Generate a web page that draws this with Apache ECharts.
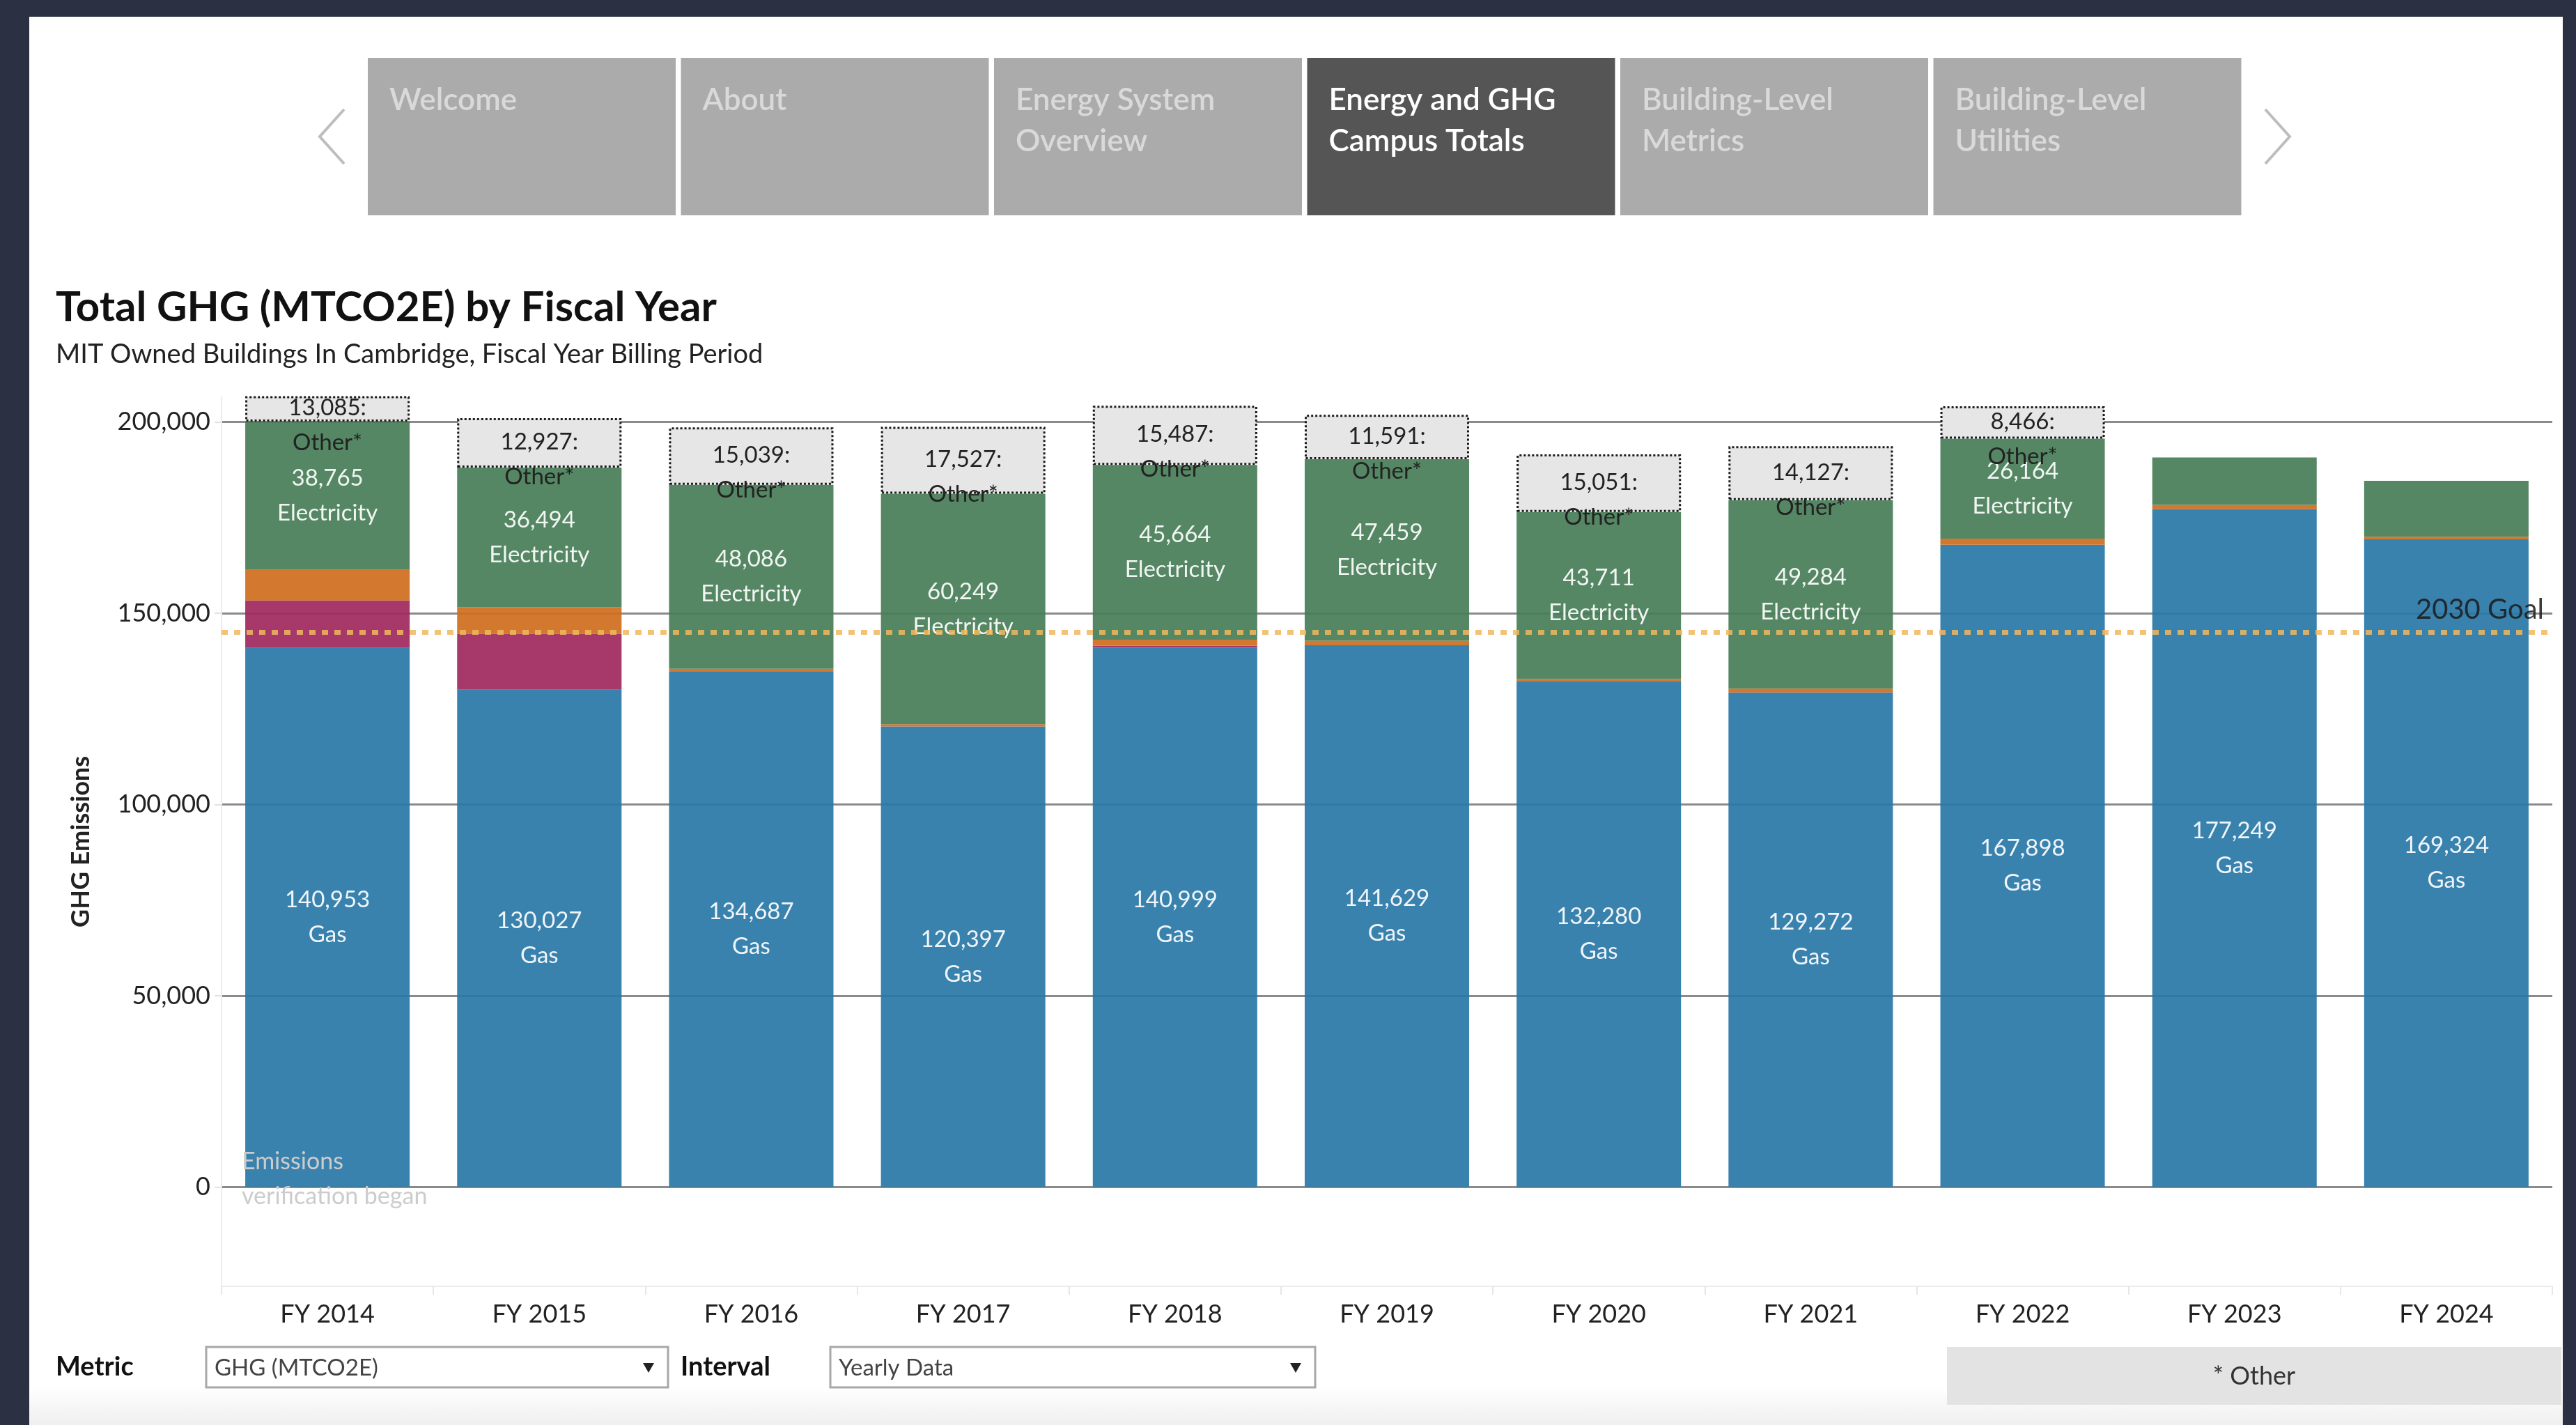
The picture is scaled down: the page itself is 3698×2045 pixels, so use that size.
<!DOCTYPE html>
<html>
<head>
<meta charset="utf-8">
<title>Total GHG (MTCO2E) by Fiscal Year</title>
<script src="https://cdn.jsdelivr.net/npm/echarts@6/dist/echarts.min.js"></script>
<style>
  html, body { margin: 0; padding: 0; background: #2b3142; }
  #chart { width: 3698px; height: 2045px; }
</style>
</head>
<body>
<div id="chart"></div>
<script>
const fiscalYears = ['FY 2014', 'FY 2015', 'FY 2016', 'FY 2017', 'FY 2018', 'FY 2019', 'FY 2020', 'FY 2021', 'FY 2022', 'FY 2023', 'FY 2024'];
const gasValues = [140953, 130027, 134687, 120397, 140999, 141629, 132280, 129272, 167898, 177249, 169324];
const fuelOil6Values = [12400, 14600, 0, 0, 500, 0, 0, 0, 0, 0, 0];
const fuelOil2Values = [8000, 6980, 800, 600, 1600, 1200, 500, 1000, 1600, 1100, 700];
const electricityValues = [38765, 36494, 48086, 60249, 45664, 47459, 43711, 49284, 26164, 12400, 14600];
const otherValues = [13085, 12927, 15039, 17527, 15487, 11591, 15051, 14127, 8466, null, null];
const goal2030 = 145000;
const yTicks = [0, 50000, 100000, 150000, 200000];

const navTabs = ['Welcome', 'About', 'Energy System\nOverview', 'Energy and GHG\nCampus Totals', 'Building-Level\nMetrics', 'Building-Level\nUtilities'];
const activeTab = 3;

const FONT = 'Lato';
const numFmt = new Intl.NumberFormat('en-US');

const barLabel = {
  show: true,
  position: 'inside',
  color: '#ffffff',
  fontFamily: FONT,
  fontSize: 33,
  lineHeight: 50
};

function pageGraphics() {
  const els = [];
  // white panel inside the dark frame
  els.push({ type: 'rect', z: -10, shape: { x: 42, y: 24, width: 3637, height: 2021 }, style: { fill: '#ffffff' } });
  els.push({
    type: 'rect', z: -9, shape: { x: 42, y: 1990, width: 3637, height: 55 },
    style: { fill: new echarts.graphic.LinearGradient(0, 0, 0, 1, [{ offset: 0, color: '#ffffff' }, { offset: 1, color: '#efefef' }]) }
  });

  navTabs.forEach((name, i) => {
    const x = 528 + i * 449.5;
    const active = i === activeTab;
    els.push({ type: 'rect', shape: { x, y: 83, width: 442, height: 226 }, style: { fill: active ? '#555555' : '#ababab' } });
    els.push({
      type: 'text', style: {
        text: name, x: x + 31, y: 114, fill: active ? '#ffffff' : '#d9d9d9',
        fontFamily: FONT, fontSize: 44, fontWeight: 600, lineHeight: 59, verticalAlign: 'top'
      }
    });
  });
  els.push({ type: 'polyline', shape: { points: [[494, 157], [459, 196], [494, 235]] }, style: { stroke: '#bdbdbd', lineWidth: 4, fill: null } });
  els.push({ type: 'polyline', shape: { points: [[3252, 157], [3287, 196], [3252, 235]] }, style: { stroke: '#bdbdbd', lineWidth: 4, fill: null } });

  els.push({
    type: 'text', z: 100,
    style: { text: 'Emissions\nverification began', x: 347, y: 1642, fill: '#cccccc', fontFamily: FONT, fontSize: 34, lineHeight: 50, verticalAlign: 'top' }
  });

  // filters under the chart
  els.push({ type: 'text', style: { text: 'Metric', x: 80, y: 1962, fill: '#111', fontFamily: FONT, fontSize: 38, fontWeight: 'bold', verticalAlign: 'middle' } });
  els.push({ type: 'text', style: { text: 'Interval', x: 977, y: 1962, fill: '#111', fontFamily: FONT, fontSize: 38, fontWeight: 'bold', verticalAlign: 'middle' } });
  [[296, 663, 'GHG (MTCO2E)'], [1192, 696, 'Yearly Data']].forEach(([x, w, txt]) => {
    els.push({ type: 'rect', shape: { x, y: 1933, width: w, height: 58 }, style: { fill: '#ffffff', stroke: '#a8a8a8', lineWidth: 3 } });
    els.push({ type: 'text', style: { text: txt, x: x + 12, y: 1963, fill: '#444', fontFamily: FONT, fontSize: 33, verticalAlign: 'middle' } });
    const ax = x + w - 28;
    els.push({ type: 'polygon', shape: { points: [[ax - 8, 1956], [ax + 8, 1956], [ax, 1970]] }, style: { fill: '#222' } });
  });
  els.push({ type: 'rect', shape: { x: 2795, y: 1933, width: 882, height: 83 }, style: { fill: '#e3e3e3' } });
  els.push({ type: 'text', style: { text: '* Other', x: 3236, y: 1975, fill: '#333', fontFamily: FONT, fontSize: 36, align: 'center', verticalAlign: 'middle' } });
  return els;
}

function stackSeries(name, values, color, label) {
  return {
    name,
    type: 'bar',
    stack: 'total',
    barCategoryGap: '22.4%',
    data: values,
    itemStyle: { color, opacity: 0.92 },
    label: label || { show: false }
  };
}

const chart = echarts.init(document.getElementById('chart'));

const gasSeries = stackSeries('Gas', gasValues, '#2977a7', {
  ...barLabel,
  formatter: p => `${numFmt.format(p.value)}\nGas`
});
gasSeries.markLine = {
  silent: true,
  symbol: 'none',
  animation: false,
  lineStyle: { color: '#f0b95e', width: 7, type: [9, 9], opacity: 0.85 },
  label: {
    show: true, position: 'insideEndTop', formatter: '2030 Goal',
    color: '#1a1a1a', fontFamily: FONT, fontSize: 40, distance: 12
  },
  data: [{ yAxis: goal2030 }]
};

chart.setOption({
  backgroundColor: '#2b3142',
  animation: false,
  title: {
    left: 80,
    top: 412,
    padding: 0,
    text: 'Total GHG (MTCO2E) by Fiscal Year',
    textStyle: { fontFamily: FONT, fontSize: 60, fontWeight: 'bold', color: '#111' },
    subtext: 'MIT Owned Buildings In Cambridge, Fiscal Year Billing Period',
    subtextStyle: { fontFamily: FONT, fontSize: 38, color: '#222' },
    itemGap: 18
  },
  graphic: pageGraphics(),
  grid: { left: 318, right: 34, top: 570, bottom: 199, containLabel: false, outerBoundsMode: 'none' },
  xAxis: {
    type: 'category',
    data: fiscalYears,
    axisLine: { onZero: false, lineStyle: { color: '#ececec', width: 2 } },
    axisTick: { show: true, length: 12, lineStyle: { color: '#e6e6e6', width: 2 } },
    axisLabel: { fontFamily: FONT, fontSize: 36, color: '#222', margin: 22 },
    splitLine: { show: false }
  },
  yAxis: {
    type: 'value',
    min: -26000,
    max: 206500,
    name: 'GHG Emissions',
    nameLocation: 'middle',
    nameGap: 184,
    nameTextStyle: { fontFamily: FONT, fontSize: 36, fontWeight: 'bold', color: '#222' },
    axisLine: { show: true, lineStyle: { color: '#ececec', width: 2 } },
    axisTick: { show: true, customValues: yTicks, length: 10, lineStyle: { color: '#e2e2e2', width: 2 } },
    axisLabel: {
      customValues: yTicks, fontFamily: FONT, fontSize: 36, color: '#222', margin: 16,
      formatter: v => numFmt.format(v)
    },
    splitLine: { show: true, lineStyle: { color: '#8a8a8a', width: 3 } }
  },
  series: [
    gasSeries,
    stackSeries('Fuel Oil #6', fuelOil6Values, '#a0275d'),
    stackSeries('Fuel Oil #2', fuelOil2Values, '#ce6e1d'),
    stackSeries('Electricity', electricityValues, '#467d57', {
      ...barLabel,
      formatter: p => (p.value >= 20000 ? `${numFmt.format(p.value)}\nElectricity` : '')
    }),
    {
      name: 'Other*',
      type: 'bar',
      stack: 'total',
      data: otherValues,
      itemStyle: { color: '#e6e6e6', borderColor: '#1a1a1a', borderWidth: 3, borderType: 'dotted' },
      label: {
        ...barLabel,
        color: '#222',
        offset: [0, 24],
        formatter: p => `${numFmt.format(p.value)}:\nOther*`
      }
    }
  ]
});
</script>
</body>
</html>
